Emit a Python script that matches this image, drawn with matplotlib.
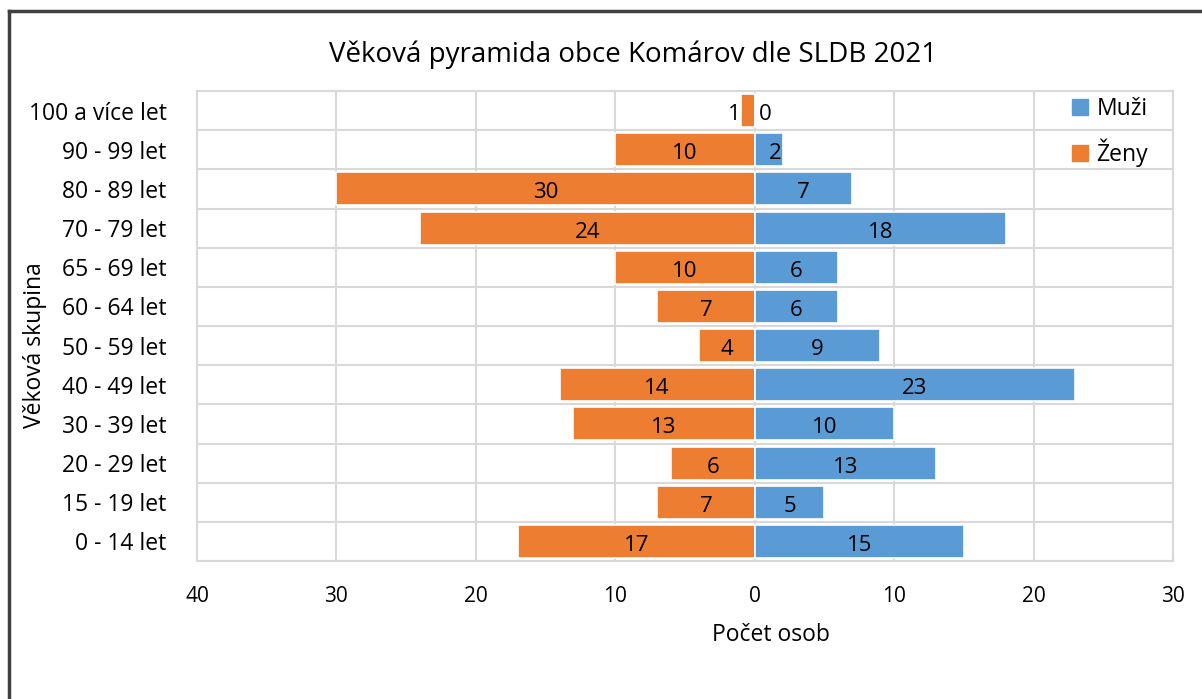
import matplotlib
matplotlib.use("Agg")
import matplotlib.pyplot as plt
import numpy as np
from matplotlib.lines import Line2D

categories = ["0 - 14 let", "15 - 19 let", "20 - 29 let", "30 - 39 let", "40 - 49 let",
              "50 - 59 let", "60 - 64 let", "65 - 69 let", "70 - 79 let", "80 - 89 let",
              "90 - 99 let", "100 a více let"]
zeny = [17, 7, 6, 13, 14, 4, 7, 10, 24, 30, 10, 1]
muzi = [15, 5, 13, 10, 23, 9, 6, 6, 18, 7, 2, 0]
x_ticks = [-40, -30, -20, -10, 0, 10, 20, 30]
x_tick_labels = ["40", "30", "20", "10", "0", "10", "20", "30"]

title = "Věková pyramida obce Komárov dle SLDB 2021"
xlabel = "Počet osob"
ylabel = "Věková skupina"

plt.rcParams['font.family'] = ['Open Sans', 'DejaVu Sans']

C_BLUE = "#5B9BD5"
C_ORANGE = "#ED7D31"
GRID = "#D9D9D9"

fig = plt.figure(figsize=(12.02, 6.99), dpi=100)
ax = fig.add_axes([197/1202, 1-561/699, (1173-197)/1202, (561-91)/699])

y = np.arange(len(categories))
h = 0.84
ax.barh(y, [-v for v in zeny], height=h, color=C_ORANGE, edgecolor="white", linewidth=1.2, zorder=3, label="Ženy")
ax.barh(y, muzi, height=h, color=C_BLUE, edgecolor="white", linewidth=1.2, zorder=3, label="Muži")

def label_pos(v, sign):
    if v == 0:
        return 0.75
    return sign * max(v / 2.0, 1.45)

for yi, v in zip(y, zeny):
    ax.text(label_pos(v, -1), yi - 0.04, str(v), ha="center", va="center_baseline", fontsize=16, color="black", zorder=4)
for yi, v in zip(y, muzi):
    ax.text(label_pos(v, 1), yi - 0.04, str(v), ha="center", va="center_baseline", fontsize=16, color="black", zorder=4)

ax.set_xlim(-40, 30)
ax.set_ylim(-0.5, len(categories) - 0.5)
ax.set_xticks(x_ticks)
ax.set_xticklabels(x_tick_labels, fontsize=15)
ax.set_yticks(y)
ax.set_yticklabels(categories, fontsize=16.5)
ax.tick_params(axis="both", length=0)
ax.tick_params(axis="x", pad=18)
ax.tick_params(axis="y", pad=22)

for xv in x_ticks:
    ax.axvline(xv, color=GRID, linewidth=1.5, zorder=1)
for b in np.arange(-0.5, len(categories), 1.0):
    ax.axhline(b, color=GRID, linewidth=1.5, zorder=1)
for s in ax.spines.values():
    s.set_color(GRID)
    s.set_linewidth(1.5)

fig.text(771/1202, 1-635/699, xlabel, ha="center", va="center", fontsize=16.5)
fig.text(35/1202, 1-345/699, ylabel, rotation=90, ha="center", va="center", fontsize=16.5)
fig.text(633/1202, 1-55/699, title, ha="center", va="center", fontsize=20)

handles = [Line2D([], [], marker="s", linestyle="none", markersize=11, color=C_BLUE),
           Line2D([], [], marker="s", linestyle="none", markersize=11, color=C_ORANGE)]
fig.legend(handles, ["Muži", "Ženy"], loc="upper left", bbox_to_anchor=(1046/1202, 1-76/699),
           frameon=False, fontsize=16.5, labelspacing=0.8, handletextpad=0.1, handlelength=1.2)

# outer frame lines (left and top)
fig.add_artist(Line2D([9/1202, 9/1202], [0, 1-11/699], transform=fig.transFigure, color="#404040", linewidth=2.5))
fig.add_artist(Line2D([9/1202, 1], [1-11/699, 1-11/699], transform=fig.transFigure, color="#404040", linewidth=2.5))

fig.savefig("out.png", dpi=100, facecolor="white")
